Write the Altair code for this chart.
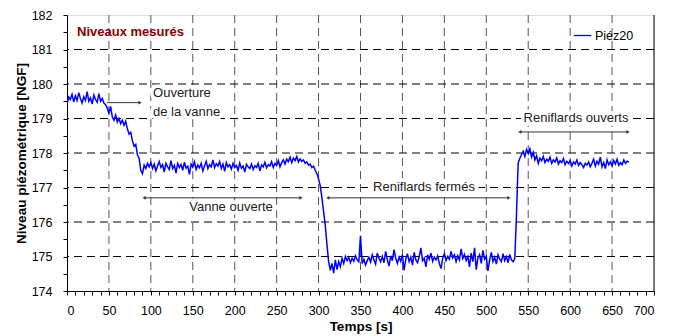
import altair as alt
import pandas as pd

# ---------------- data ----------------
times = list(range(0, 672, 2))  # sampling instants [s]
levels = [
    179.40, 179.62, 179.55, 179.70, 179.48, 179.66, 179.52, 179.75, 179.58, 179.45,
    179.63, 179.52, 179.78, 179.50, 179.60, 179.42, 179.68, 179.55, 179.47, 179.72,
    179.50, 179.58, 179.45, 179.40, 179.30, 179.15, 179.35, 179.05, 178.95, 179.10,
    178.90, 179.00, 178.85, 178.95, 178.80, 178.92, 178.70, 178.55, 178.60, 178.35,
    178.20, 178.25, 177.95, 177.85, 177.50, 177.40, 177.65, 177.55, 177.70, 177.60,
    177.72, 177.55, 177.68, 177.48, 177.62, 177.75, 177.58, 177.66, 177.45, 177.70,
    177.60, 177.52, 177.78, 177.55, 177.64, 177.42, 177.70, 177.58, 177.67, 177.50,
    177.73, 177.56, 177.62, 177.38, 177.68, 177.59, 177.74, 177.52, 177.65, 177.57,
    177.70, 177.48, 177.63, 177.76, 177.55, 177.66, 177.60, 177.80, 177.58, 177.69,
    177.62, 177.75, 177.55, 177.68, 177.47, 177.72, 177.60, 177.66, 177.53, 177.70,
    177.58, 177.64, 177.50, 177.71, 177.56, 177.62, 177.45, 177.67, 177.60, 177.55,
    177.68, 177.52, 177.63, 177.58, 177.70, 177.48, 177.65, 177.60, 177.73, 177.57,
    177.66, 177.62, 177.75, 177.58, 177.70, 177.64, 177.78, 177.60, 177.72, 177.80,
    177.68, 177.82, 177.75, 177.88, 177.72, 177.85, 177.78, 177.90, 177.74, 177.83,
    177.76, 177.80, 177.70, 177.74, 177.65, 177.68, 177.58, 177.62, 177.50, 177.40,
    177.25, 177.05, 176.70, 176.30, 175.90, 175.35, 174.85, 174.60, 174.80, 174.52,
    174.90, 174.62, 174.85, 174.70, 174.95, 174.80, 175.00, 174.88, 174.98, 174.82,
    174.95, 174.86, 175.02, 174.90, 174.85, 175.60, 174.80, 174.92, 174.75, 174.88,
    174.98, 174.84, 175.05, 174.90, 174.78, 175.10, 174.95, 174.85, 175.00, 174.82,
    175.15, 174.90, 174.72, 175.02, 174.88, 175.20, 174.95, 174.80, 174.98, 174.86,
    175.05, 174.60, 174.92, 175.08, 174.85, 174.98, 174.75, 175.12, 174.90, 174.82,
    175.00, 175.25, 174.88, 174.95, 174.70, 175.05, 174.92, 175.10, 174.86, 174.98,
    174.90, 175.02, 174.80, 174.65, 174.95, 175.08, 174.88, 175.00, 174.92, 175.15,
    174.96, 175.05, 174.85, 175.02, 174.90, 175.22, 174.94, 175.06, 174.88, 175.00,
    174.70, 175.10, 174.85, 175.25, 174.62, 174.95, 175.05, 174.80, 175.18, 174.92,
    175.00, 174.58, 174.90, 175.12, 174.85, 174.98, 174.78, 175.05, 174.92, 174.85,
    175.08, 174.88, 175.00, 174.82, 175.06, 174.90, 174.85, 174.95, 176.20, 177.70,
    177.85, 177.95, 178.05, 177.90, 178.10, 177.98, 178.12, 177.88, 178.02, 177.80,
    177.92, 177.70, 177.85, 177.78, 177.90, 177.72, 177.82, 177.76, 177.88, 177.70,
    177.80, 177.74, 177.86, 177.68, 177.78, 177.72, 177.84, 177.66, 177.76, 177.70,
    177.78, 177.62, 177.74, 177.68, 177.80, 177.64, 177.72, 177.66, 177.58, 177.70,
    177.65, 177.74, 177.60, 177.70, 177.82, 177.62, 177.76, 177.68, 177.88, 177.60,
    177.72, 177.55, 177.80, 177.66, 177.74, 177.62, 177.78, 177.68, 177.82, 177.64,
    177.72, 177.66, 177.80, 177.70, 177.76, 177.74,
]
series_name = "Piéz20"

x_ticks = list(range(0, 701, 10))
y_ticks = [174.0, 174.5, 175.0, 175.5, 176.0, 176.5, 177.0, 177.5, 178.0,
           178.5, 179.0, 179.5, 180.0, 180.5, 181.0, 181.5, 182.0]
x_grid = [50, 100, 150, 200, 250, 300, 350, 400, 450, 500, 550, 600, 650]
y_grid = [175, 176, 177, 178, 179, 180, 181]

# annotations (data coordinates)
left_text = ["Ouverture", "de la vanne"]
left_x = [102.6, 102.6]
left_y = [179.74, 179.19]
center_text = ["Vanne ouverte", "Reniflards fermés", "Reniflards ouverts"]
center_x = [195.6, 425.7, 607.0]
center_y = [176.43, 177.01, 179.01]

arrow_x1 = [47.7, 92.0, 311.0, 540.0]
arrow_x2 = [87.0, 279.0, 527.0, 669.0]
arrow_y = [179.46, 176.70, 176.70, 178.61]
head_x = [87.0, 92.0, 279.0, 311.0, 527.0, 540.0, 669.0]
head_y = [179.46, 176.70, 176.70, 176.70, 176.70, 178.61, 178.61]
head_shape = ["triangle-right", "triangle-left", "triangle-right", "triangle-left",
              "triangle-right", "triangle-left", "triangle-right"]

panel_title = "Niveaux mesurés"
panel_title_x = [12.0]
panel_title_y = [181.5]

# ---------------- chart ----------------
FONT = "Liberation Sans"
df = pd.DataFrame({"t": times, "v": levels, "s": [series_name] * len(times)})

xscale = alt.Scale(domain=[0, 700], nice=False, zero=False)
yscale = alt.Scale(domain=[174, 182], nice=False, zero=False)

xaxis = alt.Axis(values=x_ticks, labelExpr="datum.value % 50 === 0 ? datum.label : ''",
                 labelOverlap=False, grid=False, tickSize=4, tickColor="#000",
                 domainColor="#000", labelPadding=9, labelFontSize=12.5,
                 labelColor="#000", labelFont=FONT, title="Temps [s]",
                 titleFont=FONT, titleFontSize=13.5, titleFontWeight="bold",
                 titleColor="#000", titlePadding=3)
yaxis = alt.Axis(values=y_ticks,
                 labelExpr="datum.value % 1 === 0 ? format(datum.value, 'd') : ''",
                 labelOverlap=False, grid=False, tickSize=4, tickColor="#000",
                 domainColor="#000", labelPadding=11, labelFontSize=12.5,
                 labelColor="#000", labelFont=FONT, title="Niveau piézométrique [NGF]",
                 titleFont=FONT, titleFontSize=13.5, titleFontWeight="bold",
                 titleColor="#000", titlePadding=3)


def X(field):
    return alt.X(field, scale=xscale, axis=xaxis)


def Y(field):
    return alt.Y(field, scale=yscale, axis=yaxis)


hgrid = alt.Chart(pd.DataFrame({"y": y_grid})).mark_rule(
    color="#000", strokeDash=[8, 5], strokeWidth=1).encode(y=Y("y:Q"))
vgrid = alt.Chart(pd.DataFrame({"x": x_grid})).mark_rule(
    color="#555", strokeDash=[8, 5], strokeWidth=1).encode(x=X("x:Q"))

line = alt.Chart(df).mark_line(strokeWidth=1.5, clip=True).encode(
    x=X("t:Q"),
    y=Y("v:Q"),
    color=alt.Color("s:N", scale=alt.Scale(domain=[series_name], range=["#0000ff"]),
                    legend=alt.Legend(orient="none", legendX=506, legendY=11, title=None,
                                      symbolType="stroke", symbolSize=300,
                                      symbolStrokeWidth=1.3, symbolStrokeColor="#0000ff",
                                      labelFont=FONT,
                                      labelFontSize=12.5, labelColor="#000",
                                      labelOffset=3)),
)

arrows = alt.Chart(pd.DataFrame({"x1": arrow_x1, "x2": arrow_x2, "y": arrow_y})).mark_rule(
    color="#333", strokeWidth=1).encode(x=X("x1:Q"), x2="x2:Q", y=Y("y:Q"))
heads = alt.Chart(pd.DataFrame({"x": head_x, "y": head_y, "sh": head_shape})).mark_point(
    filled=True, color="#333", size=14, opacity=1).encode(
    x=X("x:Q"), y=Y("y:Q"), shape=alt.Shape("sh:N", scale=None, legend=None))

left_df = pd.DataFrame({"x": left_x, "y": left_y, "txt": left_text})
center_df = pd.DataFrame({"x": center_x, "y": center_y, "txt": center_text})


def text_layers(d, align):
    base = alt.Chart(d).encode(x=X("x:Q"), y=Y("y:Q"), text="txt:N")
    halo = base.mark_text(align=align, baseline="middle", font=FONT, fontSize=13,
                          stroke="white", strokeWidth=7, color="white")
    txt = base.mark_text(align=align, baseline="middle", font=FONT, fontSize=13,
                         color="#222")
    return [halo, txt]


ptitle = alt.Chart(pd.DataFrame({"x": panel_title_x, "y": panel_title_y,
                                 "txt": [panel_title]})).mark_text(
    align="left", baseline="middle", font=FONT, fontSize=13, fontWeight="bold",
    color="#8B0000").encode(x=X("x:Q"), y=Y("y:Q"), text="txt:N")

right_border = alt.Chart(pd.DataFrame({"x": [700]})).mark_rule(color="#000").encode(
    x=X("x:Q"))

chart = alt.layer(
    vgrid, hgrid, *text_layers(left_df, "left"), *text_layers(center_df, "center"),
    arrows, heads, line, ptitle, right_border
).properties(
    width=587, height=276,
    autosize=alt.AutoSizeParams(type="none"),
    padding={"left": 59, "top": 7, "right": 14, "bottom": 45},
).configure_view(stroke="#999", strokeWidth=1).configure(background="white")

chart.save("out.html", embed_options={"renderer": "svg", "actions": False})
